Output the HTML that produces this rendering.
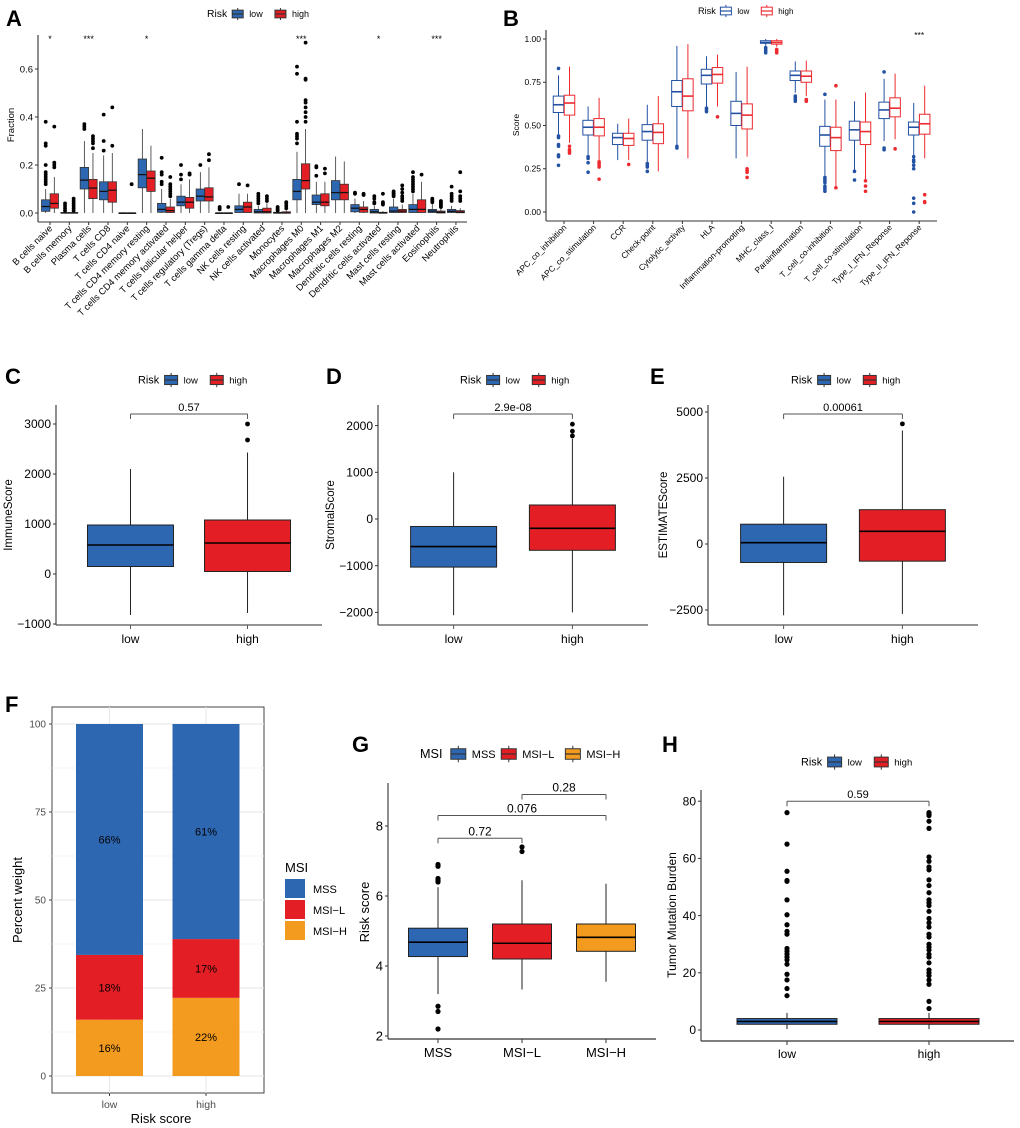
<!DOCTYPE html>
<html><head><meta charset="utf-8">
<style>
html,body{margin:0;padding:0;background:#fff;}
svg{display:block;font-family:"Liberation Sans",Arial,sans-serif;}
</style></head>
<body>
<svg id="fig" width="1020" height="1128" viewBox="0 0 1020 1128" xmlns="http://www.w3.org/2000/svg"></svg>
<script>
// ---------- Panel A data (CIBERSORT fractions) ----------
const aCats=["B cells naive","B cells memory","Plasma cells","T cells CD8","T cells CD4 naive","T cells CD4 memory resting","T cells CD4 memory activated","T cells follicular helper","T cells regulatory (Tregs)","T cells gamma delta","NK cells resting","NK cells activated","Monocytes","Macrophages M0","Macrophages M1","Macrophages M2","Dendritic cells resting","Dendritic cells activated","Mast cells resting","Mast cells activated","Eosinophils","Neutrophils"];
// [q1, median, q3, whiskerLow, whiskerHigh]
const aLow=[[.007,.027,.055,0,.1],[0,0,.002,0,.005],[.1,.137,.19,0,.3],[.055,.09,.13,0,.24],[0,0,0,0,0],[.105,.16,.225,0,.35],[.003,.015,.04,0,.1],[.03,.045,.07,0,.12],[.05,.07,.1,0,.17],[0,0,0,0,0],[.002,.015,.03,0,.08],[0,.005,.015,0,.03],[0,0,.003,0,.008],[.055,.09,.14,0,.255],[.035,.045,.075,0,.13],[.055,.085,.135,0,.235],[.005,.02,.035,0,.06],[0,.005,.015,0,.03],[.002,.008,.025,0,.06],[.002,.015,.035,0,.08],[.002,.008,.015,0,.04],[.002,.007,.015,0,.03]];
const aHigh=[[.02,.04,.08,0,.15],[0,0,.002,0,.005],[.06,.104,.14,0,.25],[.045,.095,.13,0,.25],[0,0,0,0,0],[.09,.145,.175,0,.28],[.002,.01,.025,0,.06],[.02,.045,.065,0,.14],[.05,.067,.105,0,.19],[0,0,0,0,0],[.002,.025,.045,0,.08],[0,.005,.02,0,.04],[0,0,.005,0,.012],[.1,.135,.205,0,.35],[.03,.045,.08,0,.13],[.055,.085,.12,0,.215],[.003,.015,.025,0,.05],[0,0,.003,0,.008],[.002,.008,.015,0,.035],[.002,.015,.055,0,.13],[0,.003,.008,0,.02],[.001,.004,.01,0,.02]];
const aLowOut=[[.38,.29,.28,.2,.17,.16,.15,.14,.13,.12],[.04,.03,.02,.01],[.37,.36,.35],[.41,.3,.26],[],[],[.23,.17,.16,.13,.12],[.2,.16,.14],[.2],[.025,.02,.015],[.12],[.08,.07,.06,.05,.04],[.025,.02,.015,.01],[.61,.58,.38,.33,.32,.31,.29],[.195,.19,.155],[],[.085,.08],[.07,.06,.045,.04],[.09,.085,.08,.075,.07],[.17,.15,.14,.13,.12,.11,.1,.09],[.06,.055,.05,.045],[.11,.08,.07,.06,.05]];
const aHighOut=[[.36,.21,.2,.19],[.06,.05,.04,.03,.02,.01],[.32,.31,.3,.29,.27],[.44,.28],[.12],[],[.15,.12,.11,.1,.09,.08,.07],[.165,.16],[.245,.22],[.025],[.115],[.07,.06,.05],[.045,.04,.03,.02],[.71,.56,.555,.47,.46,.44,.42,.4,.38],[.185,.165],[],[.08,.075],[.08,.045,.04,.035],[.115,.1,.085,.07,.06,.05],[.16],[.05,.045,.04,.035,.03,.025],[.17,.09,.07,.06,.05]];
const aSig=["*","","***","","","*","","","","","","","","***","","","","*","","","***",""];
const aTicks=[0,0.2,0.4,0.6];

// ---------- Panel B data (immune function scores) ----------
const bCats=["APC_co_inhibition","APC_co_stimulation","CCR","Check-point","Cytolytic_activity","HLA","Inflammation-promoting","MHC_class_I","Parainflammation","T_cell_co-inhibition","T_cell_co-stimulation","Type_I_IFN_Reponse","Type_II_IFN_Reponse"];
const bLow=[[.575,.62,.67,.45,.79],[.445,.49,.53,.33,.61],[.39,.43,.455,.3,.51],[.415,.465,.505,.29,.62],[.61,.695,.76,.39,.96],[.74,.79,.825,.61,.9],[.5,.57,.64,.31,.81],[.975,.98,.99,.96,1],[.76,.79,.815,.69,.87],[.38,.445,.495,.21,.65],[.415,.475,.525,.24,.64],[.54,.59,.635,.41,.77],[.445,.49,.52,.33,.63]];
const bHigh=[[.56,.63,.675,.4,.84],[.44,.49,.54,.3,.66],[.385,.425,.455,.3,.54],[.395,.46,.51,.235,.67],[.585,.67,.77,.31,.97],[.745,.795,.835,.61,.91],[.48,.56,.625,.32,.84],[.97,.98,.99,.955,1],[.75,.785,.815,.67,.875],[.355,.43,.49,.15,.65],[.39,.465,.52,.19,.69],[.55,.6,.66,.42,.8],[.45,.51,.565,.31,.73]];
const bLowOut=[[.83,.44,.43,.39,.38,.33,.32,.27],[.32,.31,.285,.23],[],[.28,.27,.26,.235],[.38,.37],[.6,.59,.58],[],[.95,.94,.93,.92],[.67,.66,.65,.64],[.68,.2,.19,.18,.17,.15,.14,.13,.12],[.235,.185],[.81,.37,.36],[.32,.3,.29,.27,.25,.08,.05,0]];
const bHighOut=[[.38,.36,.35,.34],[.29,.28,.27,.26,.19],[.275],[],[],[.55],[.25,.24,.23,.2],[.94,.93,.92],[.65,.645,.64],[.73,.14],[.18,.15,.12],[.365],[.1,.06,.055]];
const bSig=["","","","","","","","","","","","","***"];
const bTicks=[0,0.25,0.5,0.75,1];

// ---------- Panels C/D/E ----------
const riskGroups=["low","high"];
const cStats=[[150,580,980,-820,2100],[50,620,1080,-780,2430]];
const cOut=[[],[2680,3000]];
const cTicks=[-1000,0,1000,2000,3000];
const cP="0.57";
const dStats=[[-1030,-590,-160,-2060,1000],[-670,-200,300,-2000,1720]];
const dOut=[[],[1780,1880,2030]];
const dTicks=[-2000,-1000,0,1000,2000];
const dP="2.9e-08";
const eStats=[[-700,50,750,-2700,2550],[-650,480,1300,-2650,4300]];
const eOut=[[],[4550]];
const eTicks=[-2500,0,2500,5000];
const eP="0.00061";

// ---------- Panel F ----------
const fGroups=["low","high"];
const fMSS=[66,61];
const fMSIL=[18,17];
const fMSIH=[16,22];
const fBoundLow=[16,34.4];
const fBoundHigh=[22.2,38.9];
const fTicks=[0,25,50,75,100];

// ---------- Panel G ----------
const gCats=["MSS","MSI-L","MSI-H"];
const gStats=[[4.27,4.68,5.08,3.2,6.25],[4.2,4.65,5.2,3.33,6.45],[4.42,4.82,5.2,3.55,6.35]];
const gOut=[[6.9,6.85,6.5,6.45,6.4,2.85,2.7,2.2],[7.4,7.27],[]];
const gTicks=[2,4,6,8];
const gPairs=[[0,1,"0.72",7.65],[0,2,"0.076",8.3],[1,2,"0.28",8.9]];

// ---------- Panel H ----------
const hStats=[[2,3,4,0.3,6],[2,3,4,0.3,6]];
const hOut=[[76,65,55.5,52.3,52,45.5,40.3,36.8,34.5,33.5,28.5,27.5,26.5,25.5,24.5,23,19.5,17.5,14.5,12],[76,75.5,75,73,70.5,60.5,59,57,56,52.5,50.5,48,45.5,44.5,43.5,41.5,39,37.5,36,33.5,32.5,30,29,28,26.5,25.5,23.5,21,20,19,17.5,16,10,7.5]];
const hTicks=[0,20,40,60,80];
const hP="0.59";

const BLUE="#2e67b1", RED="#e31f25", ORANGE="#f39b1f", BLUE2="#2352a3", RED2="#ec2a2f";
const NS="http://www.w3.org/2000/svg";
const svg=document.getElementById('fig');
function mk(tag,attrs,parent){const e=document.createElementNS(NS,tag);for(const k in attrs)e.setAttribute(k,attrs[k]);(parent||svg).appendChild(e);return e;}
function group(name){const g=mk('g',{});


return g;}
function text(parent,x,y,s,size,anchor,name,extra){const t=mk('text',Object.assign({x:x,y:y,'font-size':size,'text-anchor':anchor||'start',fill:'#000'},extra||{}),parent);t.textContent=s;


return t;}
function line(parent,x1,y1,x2,y2,stroke,w,name){const l=mk('line',{x1:x1,y1:y1,x2:x2,y2:y2,stroke:stroke,'stroke-width':w},parent);


return l;}

function drawBox(parent,cx,w,st,ys,fill,stroke,medStroke,outs,r,outFill,name,sw){
  const g=mk('g',{},parent);
  
  
  line(g,cx,ys(st[4]),cx,ys(st[2]),stroke,sw,'whisker-upper');
  line(g,cx,ys(st[0]),cx,ys(st[3]),stroke,sw,'whisker-lower');
  const top=ys(st[2]),bot=ys(st[0]);
  const rc=mk('rect',{x:cx-w/2,y:top,width:w,height:Math.max(bot-top,0.6),fill:fill,stroke:stroke,'stroke-width':sw},g);
  
  
  line(g,cx-w/2,ys(st[1]),cx+w/2,ys(st[1]),medStroke,sw*1.6,'median-line');
  outs.forEach(v=>{const c=mk('circle',{cx:cx,cy:ys(v),r:r,fill:outFill},g);
    
    });
}
function yAxis(parent,x,yTop,yBot,ticks,ys,fmt,size,color){
  line(parent,x,yTop,x,yBot,'#333',1.1,'y-axis-line');
  ticks.forEach(t=>{line(parent,x-3,ys(t),x,ys(t),'#333',1,'y-tick');
    text(parent,x-5,ys(t)+size*0.35,fmt(t),size,'end','y-tick-label',{fill:color||'#000'});});
}
function riskLegend(parent,x,y,size,keyW,hollow,labels,colors,strokes,title){
  const g=mk('g',{},parent);
  
  
  text(g,x,y+size*0.35,title||'Risk',size*1.15,'start','legend-title');
  let cx=x+size*2.8;
  labels.forEach((lb,i)=>{
    const k=mk('g',{},g);
    
    
    line(k,cx+keyW/2,y-keyW*0.55,cx+keyW/2,y+keyW*0.55,strokes[i],1,'legend-key-whisker');
    const r=mk('rect',{x:cx,y:y-keyW*0.35,width:keyW,height:keyW*0.7,fill:hollow?'#fff':colors[i],stroke:strokes[i],'stroke-width':1},k);
    
    
    line(k,cx,y,cx+keyW,y,strokes[i],1.2,'legend-key-median');
    text(k,cx+keyW+6,y+size*0.35,lb,size,'start','legend-label');
    cx+=keyW+6+lb.length*size*0.62+9;
  });
}
function letter(x,y,s){text(svg,x,y,s,22,'start','panel-label-'+s.toLowerCase(),{'font-weight':'bold'});}
function bracket(parent,x1,x2,y,label,size){
  line(parent,x1,y,x2,y,'#555',1,'p-bracket');
  line(parent,x1,y,x1,y+5,'#555',1,'p-bracket-tick');
  line(parent,x2,y,x2,y+5,'#555',1,'p-bracket-tick');
  text(parent,(x1+x2)/2,y-3,label,size,'middle','p-value-label');
}

// ===== Panel A =====
(function(){
  const g=group('panel-a-immune-cell-fraction');
  letter(6,26,'A');
  riskLegend(g,207,14,9,11,false,['low','high'],[BLUE,RED],['#333','#333']);
  const ys=v=>213-240*v, xs=i=>50+19.33*i;
  yAxis(g,38,35,222,aTicks,ys,v=>v.toFixed(1),9.5);
  line(g,38,222,467,222,'#333',1.1,'x-axis-line');
  text(g,14,125,'Fraction',9.5,'middle','y-axis-title',{transform:'rotate(-90 14 125)'});
  aCats.forEach((c,i)=>{
    drawBox(g,xs(i)-4.3,8.4,aLow[i],ys,BLUE,'#333','#111',aLowOut[i],1.9,'#000','box-low-'+i,0.8);
    drawBox(g,xs(i)+4.3,8.4,aHigh[i],ys,RED,'#333','#111',aHighOut[i],1.9,'#000','box-high-'+i,0.8);
    line(g,xs(i),222,xs(i),225,'#333',1,'x-tick');
    text(g,xs(i)+3,229,c,9.3,'end','x-tick-label',{transform:'rotate(-45 '+(xs(i)+3)+' 229)'});
    if(aSig[i])text(g,xs(i),42,aSig[i],9,'middle','significance-mark');
  });
})();

// ===== Panel B =====
(function(){
  const g=group('panel-b-immune-function-score');
  letter(503,26,'B');
  riskLegend(g,698,11,8,11,true,['low','high'],[BLUE2,RED2],[BLUE2,RED2]);
  const ys=v=>212-173*v, xs=i=>564+29.6*i;
  yAxis(g,546,30,221,bTicks,ys,v=>v.toFixed(2),8.5);
  line(g,546,221,937,221,'#333',1.1,'x-axis-line');
  text(g,519,125,'Score',8.5,'middle','y-axis-title',{transform:'rotate(-90 519 125)'});
  bCats.forEach((c,i)=>{
    drawBox(g,xs(i)-5.5,10.5,bLow[i],ys,'#fff',BLUE2,BLUE2,bLowOut[i],1.8,BLUE2,'box-low-'+i,1);
    drawBox(g,xs(i)+5.5,10.5,bHigh[i],ys,'#fff',RED2,RED2,bHighOut[i],1.8,RED2,'box-high-'+i,1);
    line(g,xs(i),221,xs(i),224,'#333',1,'x-tick');
    text(g,xs(i)+3,228,c,8.3,'end','x-tick-label',{transform:'rotate(-45 '+(xs(i)+3)+' 228)'});
    if(bSig[i])text(g,xs(i),38,bSig[i],8.5,'middle','significance-mark');
  });
})();

// ===== Panels C/D/E =====
function scorePanel(name,L,axX,axRight,ys,ticks,stats,outs,p,title,titleX,legX){
  const g=group(name);
  letter(L[0],384,L[1]);
  riskLegend(g,legX,380,9.5,13,false,['low','high'],[BLUE,RED],['#333','#333']);
  yAxis(g,axX,405,625,ticks,ys,v=>v<0?'\u2212'+(-v):String(v),12);
  line(g,axX,625,axRight,625,'#555',1.3,'x-axis-line');
  const xs=[axX+(axRight-axX)*0.28,axX+(axRight-axX)*0.72];
  text(g,titleX,515,title,11.5,'middle','y-axis-title',{transform:'rotate(-90 '+titleX+' 515)'});
  riskGroups.forEach((r,i)=>{
    drawBox(g,xs[i],86,stats[i],ys,i?RED:BLUE,'#222','#000',outs[i],2.4,'#000','box-'+r,1);
    line(g,xs[i],625,xs[i],629,'#555',1,'x-tick');
    text(g,xs[i],643,r,12,'middle','x-tick-label');
  });
  bracket(g,xs[0],xs[1],414,p,11);
}
scorePanel('panel-c-immune-score',[5,'C'],56,322,v=>574-0.05*v,cTicks,cStats,cOut,cP,'ImmuneScore',12,138);
scorePanel('panel-d-stromal-score',[326,'D'],378,648,v=>519-0.0467*v,dTicks,dStats,dOut,dP,'StromalScore',334,460);
scorePanel('panel-e-estimate-score',[650,'E'],708,978,v=>544-0.0264*v,eTicks,eStats,eOut,eP,'ESTIMATEScore',667,791);

// ===== Panel F =====
(function(){
  const g=group('panel-f-msi-percent');
  letter(5,712,'F');
  const ys=v=>1076-3.52*v;
  const bg=mk('rect',{x:52,y:707,width:212,height:386,fill:'#fff',stroke:'#444','stroke-width':1},g);
  
  
  [12.5,37.5,62.5,87.5].forEach(v=>line(g,52,ys(v),264,ys(v),'#f3f3f3',0.8,'minor-gridline'));
  fTicks.forEach(v=>line(g,52,ys(v),264,ys(v),'#e6e6e6',1,'major-gridline'));
  const xs=[109.5,206];
  xs.forEach(x=>line(g,x,707,x,1093,'#e6e6e6',1,'major-gridline-x'));
  fGroups.forEach((gr,i)=>{
    const b=i?fBoundHigh:fBoundLow;
    const segs=[[0,b[0],ORANGE,fMSIH[i],'msi-h'],[b[0],b[1],RED,fMSIL[i],'msi-l'],[b[1],100,BLUE,fMSS[i],'mss']];
    segs.forEach(s=>{
      const r=mk('rect',{x:xs[i]-33.5,y:ys(s[1]),width:67,height:ys(s[0])-ys(s[1]),fill:s[2]},g);
      
      
      text(g,xs[i],(ys(s[0])+ys(s[1]))/2+4,s[3]+'%',11,'middle','bar-label');
    });
    line(g,xs[i],1093,xs[i],1096,'#444',1,'x-tick');
    text(g,xs[i],1108,gr,10.5,'middle','x-tick-label',{fill:'#4d4d4d'});
  });
  fTicks.forEach(v=>{line(g,49,ys(v),52,ys(v),'#444',1,'y-tick');
    text(g,46,ys(v)+3.5,String(v),10,'end','y-tick-label',{fill:'#4d4d4d'});});
  text(g,22,900,'Percent weight',13,'middle','y-axis-title',{transform:'rotate(-90 22 900)'});
  text(g,161,1123,'Risk score',13,'middle','x-axis-title');
  text(g,285,872,'MSI',13,'start','legend-title');
  [['MSS',BLUE],['MSI\u2212L',RED],['MSI\u2212H',ORANGE]].forEach((e,i)=>{
    const r=mk('rect',{x:285,y:879+i*21,width:20,height:19,fill:e[1]},g);
    
    
    text(g,313,893+i*21,e[0],11,'start','legend-label');
  });
})();

// ===== Panel G =====
(function(){
  const g=group('panel-g-risk-score-by-msi');
  letter(352,752,'G');
  riskLegend(g,420,754,11,15,false,['MSS','MSI\u2212L','MSI\u2212H'],[BLUE,RED,ORANGE],['#333','#333','#333'],'MSI');
  const ys=v=>1036-35*(v-2), xs=i=>438+84*i;
  yAxis(g,388,783,1039,gTicks,ys,String,13);
  line(g,388,1039,656,1039,'#333',1.2,'x-axis-line');
  text(g,369,912,'Risk score',13,'middle','y-axis-title',{transform:'rotate(-90 369 912)'});
  gCats.forEach((c,i)=>{
    drawBox(g,xs(i),59,gStats[i],ys,[BLUE,RED,ORANGE][i],'#222','#000',gOut[i],2.6,'#000','box-'+c.toLowerCase(),1);
    line(g,xs(i),1039,xs(i),1043,'#333',1,'x-tick');
    text(g,xs(i),1057,c.replace('-','\u2212'),13,'middle','x-tick-label');
  });
  gPairs.forEach(p=>bracket(g,xs(p[0]),xs(p[1]),ys(p[3]),p[2],12));
})();

// ===== Panel H =====
(function(){
  const g=group('panel-h-tumor-mutation-burden');
  letter(662,752,'H');
  riskLegend(g,801,762,9.5,14,false,['low','high'],[BLUE,RED],['#333','#333']);
  const ys=v=>1030-2.86*v, xs=[787,929];
  yAxis(g,701,790,1041,hTicks,ys,String,12);
  line(g,701,1041,1014,1041,'#333',1.2,'x-axis-line');
  text(g,676,915,'Tumor Mutation Burden',12,'middle','y-axis-title',{transform:'rotate(-90 676 915)'});
  riskGroups.forEach((r,i)=>{
    drawBox(g,xs[i],100,hStats[i],ys,i?RED:BLUE,'#222','#000',hOut[i],2.6,'#000','box-'+r,1);
    line(g,xs[i],1041,xs[i],1045,'#333',1,'x-tick');
    text(g,xs[i],1058,r,12,'middle','x-tick-label');
  });
  bracket(g,xs[0],xs[1],ys(80),hP,11);
})();
</script>
</body></html>
